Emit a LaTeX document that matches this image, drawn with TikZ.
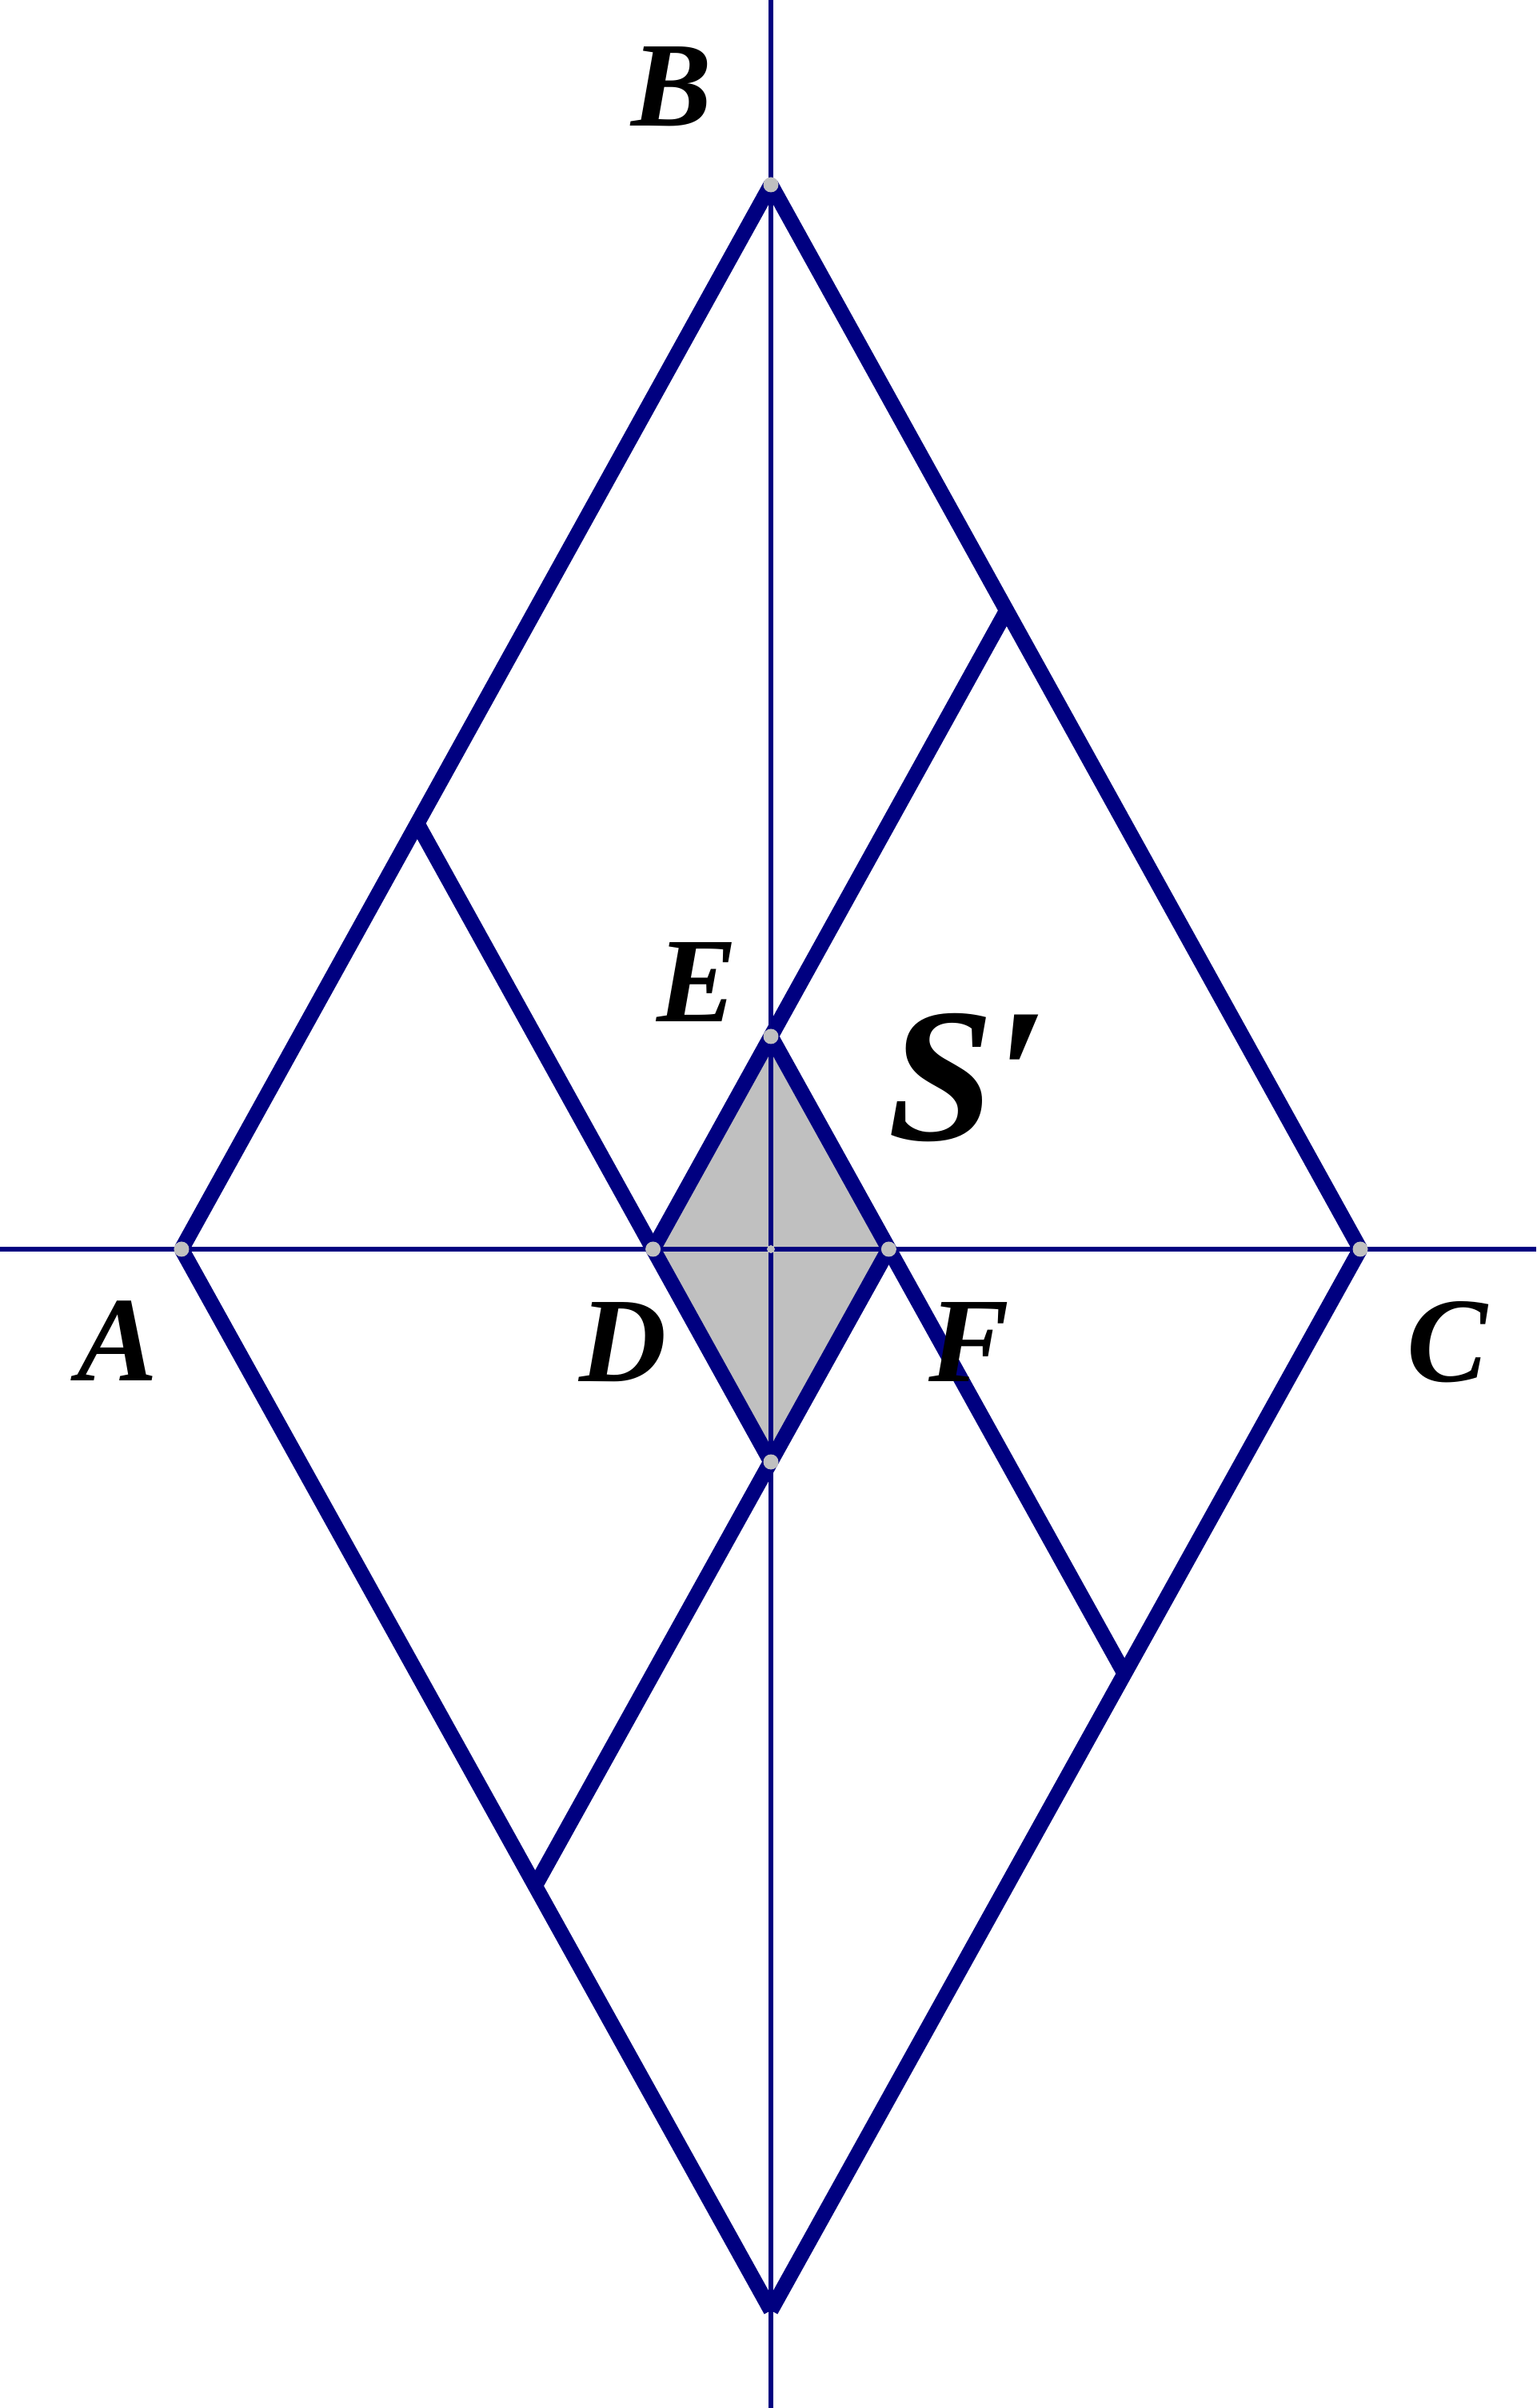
\documentclass[tikz,border=0pt]{standalone}
\usepackage{fontspec}
\setmainfont{Liberation Serif}
\newfontfamily\lblfont{Liberation Serif Bold Italic}
\usepackage{tikz}
\usetikzlibrary{calc}
\definecolor{navy}{RGB}{0,0,128}
\definecolor{ptgray}{RGB}{192,192,192}

\begin{document}
\begin{tikzpicture}[side/.style={navy,line width=5.4pt},
    axis/.style={navy,line width=1.7pt},
    pt/.style={circle,fill=ptgray,inner sep=0pt,minimum size=0.19cm},
    lbl/.style={font=\fontsize{43}{50}\lblfont,inner sep=0pt}]
            \useasboundingbox (-9.64,-14.49) rectangle (9.57,15.62);
            % big rhombus
            \coordinate (O) at (0,0);
            \coordinate (A) at (-7.37,0);
            \coordinate (C) at (7.37,0);
            \coordinate (B) at (0,13.31);
            \coordinate (H) at (0,-13.27);
            % small rhombus
            \coordinate (D) at (-1.474,0);
            \coordinate (F) at (1.474,0);
            \coordinate (E) at (0,2.66);
            \coordinate (G) at (0,-2.66);
            \coordinate (P1) at ($(A)!0.4!(B)$);
            \coordinate (P2) at ($(B)!0.4!(C)$);
            \coordinate (P3) at ($(H)!0.4!(A)$);
            \coordinate (P4) at ($(C)!0.4!(H)$);
            % axes ends
            \coordinate (L) at (-9.64,0);
            \coordinate (R) at (9.57,0);
            \coordinate (T) at (0,15.62);
            \coordinate (U) at (0,-14.49);
            \fill[ptgray] (D)--(E)--(F)--(G)--cycle;
            \draw[side] (A) edge (B) (B) edge (C) (C) edge (H) (H) edge (A)
              (P1) edge (G) (P2) edge (D) (E) edge (P4) (F) edge (P3);
            \draw[axis] (L)--(R) (T)--(U);
            \foreach \p in {A,B,C,D,E,F,G} \node[pt] at (\p) {};
            \node[pt,minimum size=0.1cm] (Od) at (O) {};
            \node[lbl] (lA) at (-8.17,-1.15) {A};
            \node[lbl] (lB) at (-1.24,14.54) {B};
            \node[lbl] (lC) at (8.46,-1.16) {C};
            \node[lbl] (lD) at (-1.85,-1.16) {D};
            \node[lbl] (lE) at (-0.92,3.34) {E};
            \node[lbl] (lF) at (2.48,-1.16) {F};
            \node[lbl,font=\fontsize{68}{78}\lblfont] (lS) at (2.47,2.14) {S′};
          \end{tikzpicture}
\end{document}
